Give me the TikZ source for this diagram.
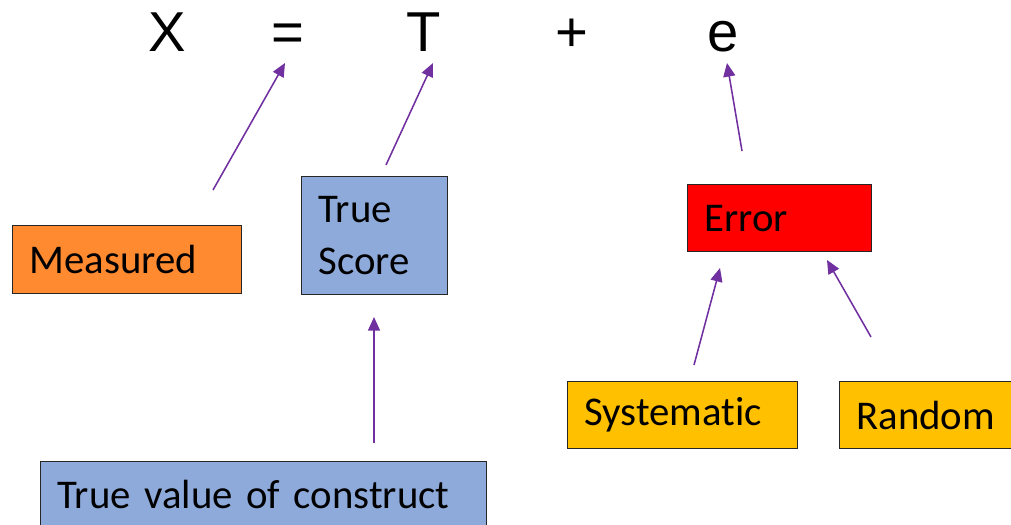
\documentclass[tikz,border=0pt]{standalone}
\usepackage{fontspec}
\setmainfont{Carlito}[Ligatures=NoCommon]
\newfontfamily\eqfont{Liberation Sans}
\usepackage{xcolor}
\usetikzlibrary{arrows.meta,positioning}
\definecolor{purple}{HTML}{7030A0}
\definecolor{orange}{HTML}{FF8A30}
\definecolor{softblue}{HTML}{8EAADB}
\definecolor{gold}{HTML}{FFC000}
\definecolor{edge}{HTML}{262626}
\newcommand{\boxfont}{\fontsize{29}{36.5}\selectfont}

\begin{document}
\begin{tikzpicture}[
  x=0.025cm, y=-0.025cm,
  font=\boxfont,
  box/.style={draw=edge, line width=0.9pt, anchor=north west, align=left, inner xsep=0.42cm, inner ysep=0pt},
  sym/.style={font=\eqfont\fontsize{40}{44}\selectfont, anchor=base, inner sep=0pt},
  rel/.style={-{Triangle[length=3.4mm,width=3mm]}, line width=1.1pt, purple}
]
\useasboundingbox (0,0) rectangle (1011,525);
% equation
\node[sym] (eqX) at (167,52) {X};
\node[sym] (eqEq) at (288,52) {=};
\node[sym] (eqT) at (424,52) {T};
\node[sym] (eqPlus) at (572,52) {+};
\node[sym] (eqE) at (723,52) {e};
% boxes
\node[box, fill=orange, text width=4.885cm, minimum height=1.7cm] (measured) at (12,225) {Measured};
\node[box, fill=softblue, text width=2.81cm, minimum height=2.95cm] (truescore) at (301,176) {True\\Score};
\node[box, fill=red, text width=3.76cm, minimum height=1.675cm] (err) at (687,184) {Error};
\node[box, fill=gold, text width=4.91cm, minimum height=1.675cm] (syst) at (567,381) {Systematic};
\node[box, fill=gold, text width=3.94cm, minimum height=1.675cm] (rand) at (839,381) {Random};
\node[box, fill=softblue, text width=10.31cm, minimum height=1.65cm] (construct) at (40,461) {True value of construct};
% arrow ends
\coordinate (mTail) at (213,190);
\coordinate (mHead) at (285,63);
\coordinate (tTail) at (386,165);
\coordinate (tHead) at (433,63);
\coordinate (eTail) at (742,151);
\coordinate (eHead) at (727,63);
\coordinate (cTail) at (374,443);
\coordinate (cHead) at (374,317);
\coordinate (sTail) at (694,365);
\coordinate (sHead) at (720,268);
\coordinate (rTail) at (871,337);
\coordinate (rHead) at (827,260);
\draw[rel] (mTail) -- (mHead);
\draw[rel] (tTail) -- (tHead);
\draw[rel] (eTail) -- (eHead);
\draw[rel] (cTail) -- (cHead);
\draw[rel] (sTail) -- (sHead);
\draw[rel] (rTail) -- (rHead);
\end{tikzpicture}
\end{document}
